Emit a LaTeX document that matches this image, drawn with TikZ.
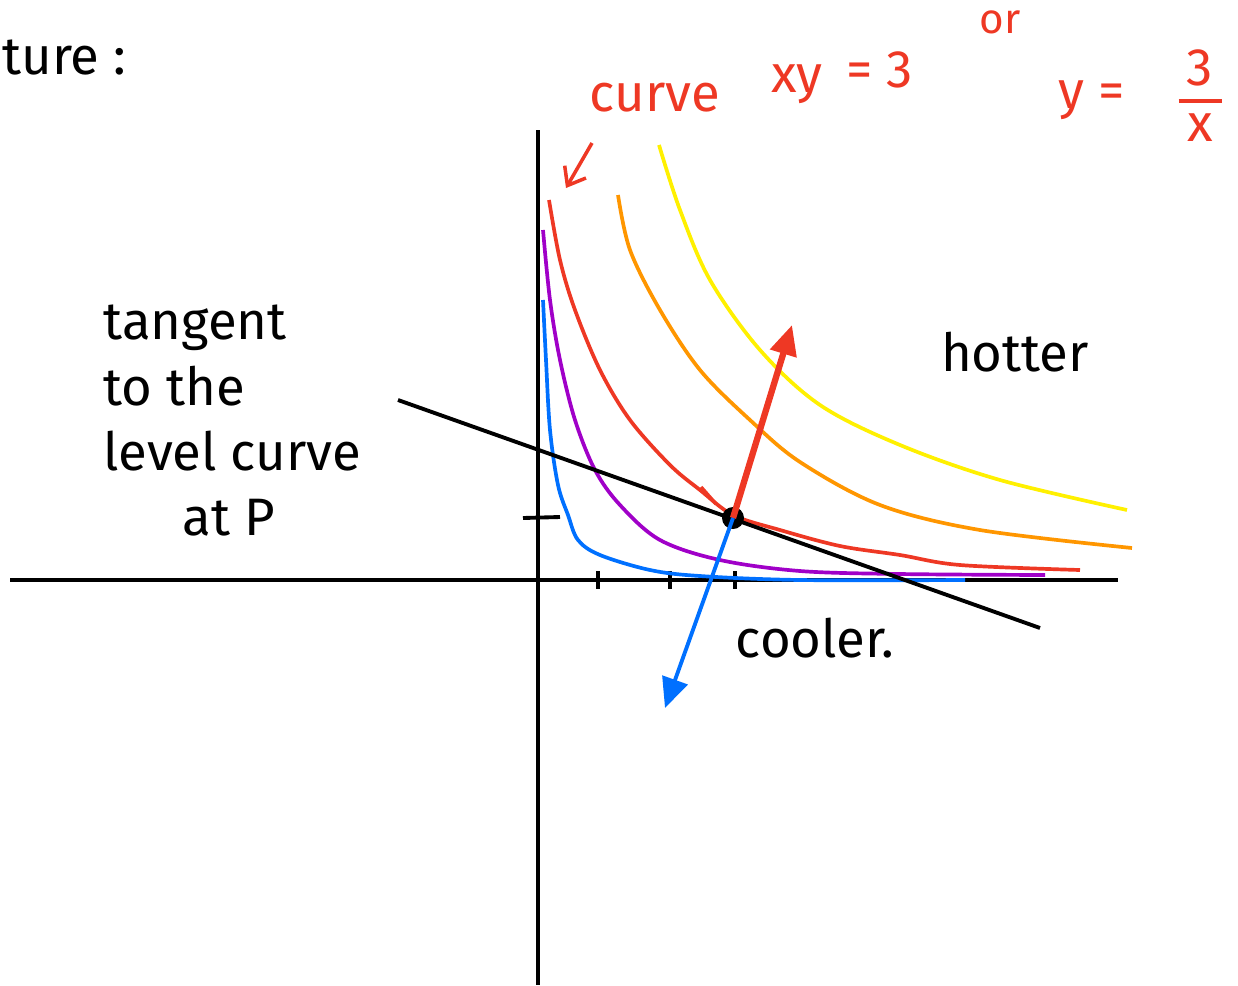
\documentclass[tikz,border=0pt]{standalone}
\usepackage{fontspec}
\setmainfont{Fira Sans}
\usetikzlibrary{arrows.meta, positioning, calc}
\definecolor{inkred}{RGB}{238,56,36}
\definecolor{inkblue}{RGB}{0,112,255}
\definecolor{inkpurple}{RGB}{160,0,200}
\definecolor{inkorange}{RGB}{255,150,0}
\definecolor{inkyellow}{RGB}{255,240,0}

\begin{document}
\begin{tikzpicture}[ x=0.02cm, y=-0.02cm, >=Stealth, axis/.style={line width=2.2pt}, level/.style={line width=2.1pt, smooth, tension=0.55}, hand/.style={font=\fontsize{30}{37}\selectfont, inner sep=0pt}, gradarrow/.style={-{Triangle[length=17pt, width=15pt]}} ]
		\useasboundingbox (0,0) rectangle (1238,985);
		% Axes
		\coordinate (xl) at (10,580); \coordinate (xr) at (1118,580);
		\coordinate (yt) at (538,130); \coordinate (yb) at (538,985);
		\draw[axis] (xl) -- (xr);
		\draw[axis] (yt) -- (yb);
		% Ticks
		\foreach \tx in {598,670,735} \draw[axis] (\tx,571) -- (\tx,589);
		\draw[axis] (523,518) -- (560,517);
		% Level curves
		\draw[level, inkblue] plot coordinates {(543,300) (546,360) (550,430) (558,485) (568,515) (578,540) (600,555) (650,570) (700,576) (800,580) (965,580)};
		\draw[level, inkpurple] plot coordinates {(543,230) (550,300) (560,360) (575,420) (595,470) (620,505) (660,540) (720,560) (800,571) (900,574) (1045,575)};
		\draw[level, inkred] plot coordinates {(549,200) (560,260) (575,310) (600,370) (630,420) (670,465) (700,490) (733,515) (780,530) (840,546) (900,555) (960,565) (1080,570)};
		\draw[level, inkorange] plot coordinates {(618,195) (630,250) (660,310) (700,370) (750,420) (800,462) (880,505) (980,530) (1132,548)};
		\draw[level, inkyellow] plot coordinates {(659,145) (680,210) (710,280) (760,350) (820,405) (900,445) (1000,480) (1127,510)};
		% Tangent line and point P
		\coordinate (tl) at (398,400); \coordinate (tr) at (1040,628);
		\draw[axis] (tl) -- (tr);
		\node[circle, fill, minimum size=0.44cm, inner sep=0pt] (P) at (733,518) {};
		% Gradient directions
		\coordinate (hot) at (792,325); \coordinate (cold) at (665,708);
		\draw[gradarrow, inkred, line width=3.6pt] (P.center) -- (hot);
		\draw[gradarrow, inkblue, line width=2.2pt] (P.center) -- (cold);
		\draw[inkred, line width=2pt] (701,487) -- (716,504);
		% Labels
		\node[hand, anchor=west] (title) at (2,57) {ture :};
		\node[hand, inkred] (curve) at (655,98) {curve};
		\node[hand, inkred] (xy) at (797,84) {xy};
		\node[hand, inkred] (eq) at (880,70) {= 3};
		\node[hand, inkred, font=\fontsize{24}{28}\selectfont] (or) at (1000,22) {or};
		\node[hand, inkred] (yeq) at (1092,100) {y =};
		\node[hand, inkred] (num) at (1200,68) {3};
		\node[hand, inkred] (den) at (1200,128) {x};
		\draw[inkred, line width=2.2pt] (num.south west) ++(-8,14) coordinate (fl) -- ($(num.south east)+(8,14)$) coordinate (fr);
		\coordinate (pt) at (566,188); \coordinate (ps) at (592,143);
		\draw[-{Straight Barb[length=9pt, width=14pt]}, inkred, line width=2pt] (ps) -- (pt);
		\node[hand, align=left, anchor=north west] (tangent) at (103,305) {tangent\\to the\\level curve\\\hspace*{1.5em}at P};
		\node[hand] (hotter) at (1015,352) {hotter};
		\node[hand] (cooler) at (815,638) {cooler.};
\end{tikzpicture}
\end{document}
